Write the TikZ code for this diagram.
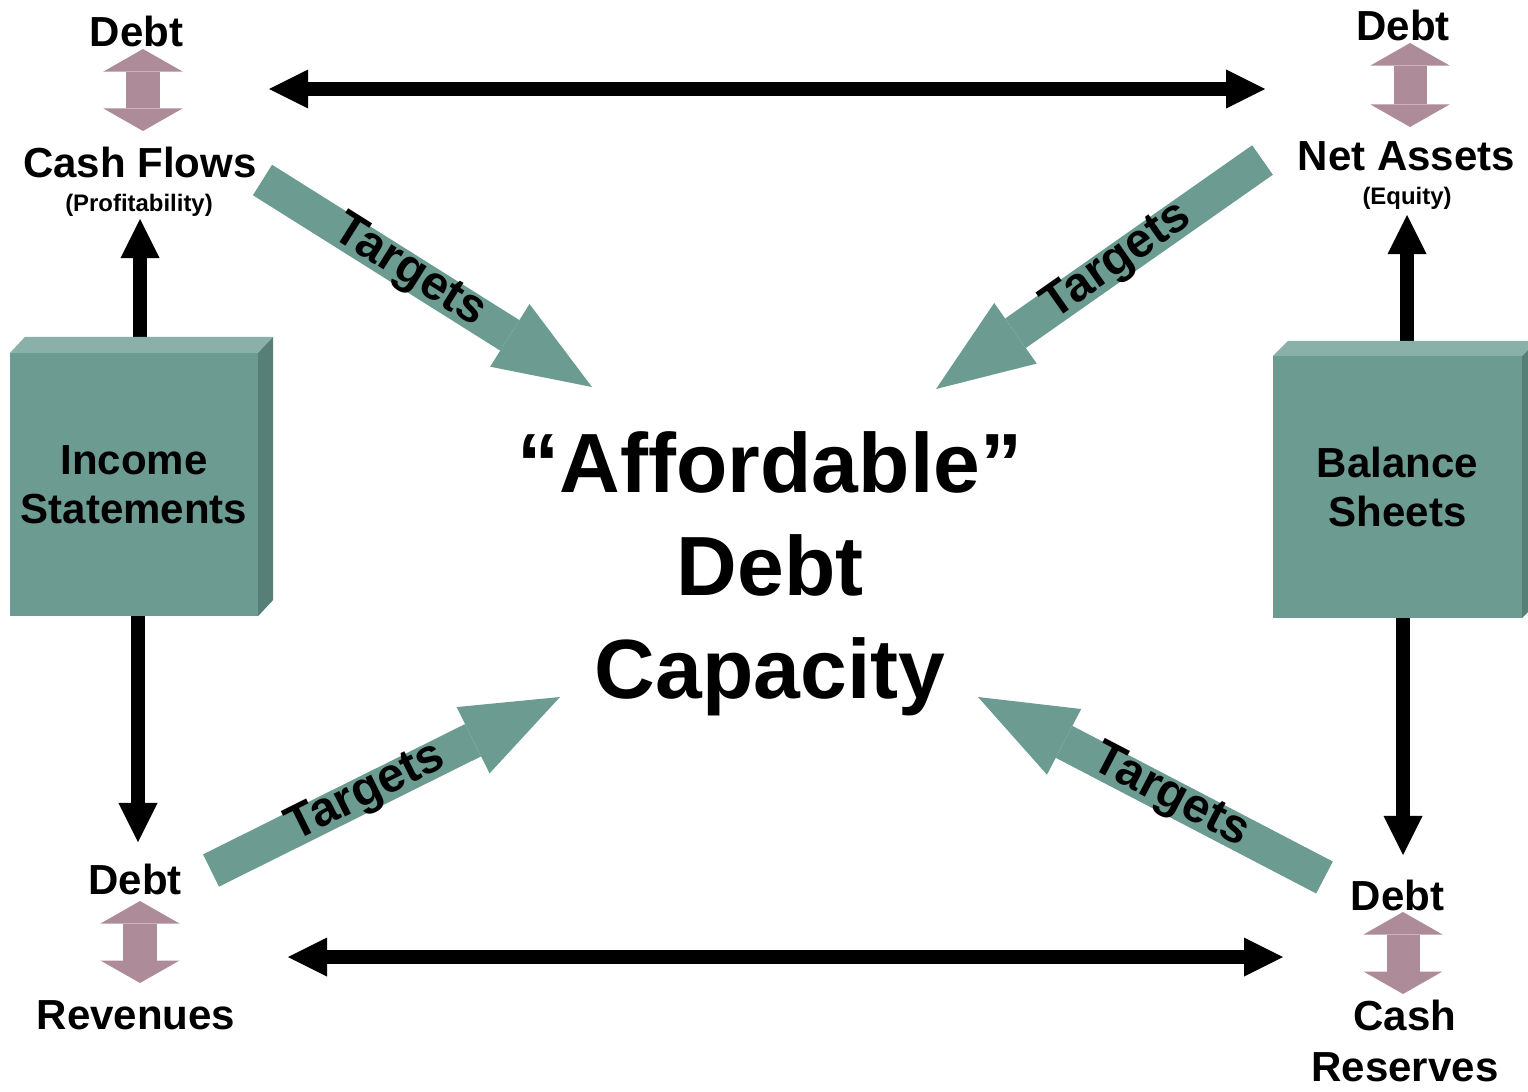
\documentclass[tikz,border=0pt]{standalone}
\usepackage{fontspec}
\setmainfont{Liberation Sans}
\usetikzlibrary{arrows.meta,calc}
\definecolor{tealfill}{RGB}{108,155,146}
\definecolor{tealtop}{RGB}{138,177,169}
\definecolor{tealside}{RGB}{88,127,118}
\definecolor{mauve}{RGB}{173,139,153}

\begin{document}
\begin{tikzpicture}[x=0.01cm,y=-0.01cm,
  lbl/.style={font=\bfseries\fontsize{11.95}{14.5}\selectfont, inner sep=0pt, anchor=base},
  lbltwo/.style={font=\bfseries\fontsize{11.95}{14.5}\selectfont, inner sep=0pt, align=center},
  sublbl/.style={font=\bfseries\fontsize{6.8}{8}\selectfont, inner sep=0pt, anchor=base},
  bigtext/.style={font=\bfseries\fontsize{23.9}{29.3}\selectfont, inner sep=0pt, align=center},
  box/.style={fill=tealfill, inner sep=0pt, outer sep=0pt, align=center,
    font=\bfseries\fontsize{11.95}{13.9}\selectfont},
  blkone/.style={line width=0.135cm, -{Triangle[length=0.39cm,width=0.39cm,line width=0pt]}},
  blkboth/.style={line width=0.135cm,
    {Triangle[length=0.39cm,width=0.39cm,line width=0pt]}-{Triangle[length=0.39cm,width=0.39cm,line width=0pt]}},
  mauveboth/.style={mauve, line width=0.33cm,
    {Triangle[length=0.225cm,width=0.79cm,line width=0pt]}-{Triangle[length=0.225cm,width=0.79cm,line width=0pt]}},
  fatarrow/.style={tealfill, line width=0.36cm, -{Triangle[length=0.97cm,width=0.74cm,line width=0pt]}},
  tgt/.style={text=black, font=\bfseries\fontsize{13.7}{16}\selectfont, inner sep=0pt, sloped, pos=0.445}
]
\clip (0,0) rectangle (1528,1091);

% ---- statement boxes (front faces) ----
\node[box, minimum width=2.48cm, minimum height=2.63cm] (inc) at (134,484.5) {Income\\Statements};
\node[box, minimum width=2.49cm, minimum height=2.62cm] (bal) at (1397.5,487) {Balance\\Sheets};

% ---- labels ----
\node[lbl] (dTL) at (136.5,47) {Debt};
\node[lbl] (cf) at (140,177) {Cash Flows};
\node[sublbl] (prof) at (139,211) {(Profitability)};
\node[lbl] (dTR) at (1403,41) {Debt};
\node[lbl] (na) at (1406.5,171) {Net Assets};
\node[sublbl] (eq) at (1407,205) {(Equity)};
\node[lbl] (dBL) at (135,894) {Debt};
\node[lbl] (rev) at (136,1029) {Revenues};
\node[lbl] (dBR) at (1397.5,910) {Debt};
\node[lbltwo] (cr) at (1405,1041) {Cash\\Reserves};
\node[bigtext] (adc) at (770,574) {“Affordable”\\Debt\\Capacity};

% ---- connector end points ----
\coordinate (cfTip) at (140,219);
\coordinate (revTip) at (138,842);
\coordinate (naTip) at (1407,215);
\coordinate (crTip) at (1403,855);
\coordinate (hTL) at (269,89);
\coordinate (hTR) at (1265,89);
\coordinate (hBL) at (288,957);
\coordinate (hBR) at (1283,957);
\coordinate (pTLa) at (143,49);  \coordinate (pTLb) at (143,131);
\coordinate (pTRa) at (1410,43); \coordinate (pTRb) at (1410,127);
\coordinate (pBLa) at (140,901); \coordinate (pBLb) at (140,983);
\coordinate (pBRa) at (1403,912);\coordinate (pBRb) at (1403,994);
\coordinate (t1a) at (262.5,180);  \coordinate (t1b) at (592,387);
\coordinate (t2a) at (1262.5,160); \coordinate (t2b) at (936,389);
\coordinate (t3a) at (211,870.5);  \coordinate (t3b) at (560,697);
\coordinate (t4a) at (1324.5,877.5); \coordinate (t4b) at (978,697);

% ---- black connectors ----
\draw[blkboth] (hTL) -- (hTR);
\draw[blkboth] (hBL) -- (hBR);
\draw[blkone] (cfTip |- inc.north) -- (cfTip);
\draw[blkone] (revTip |- inc.south) -- (revTip);
\draw[blkone] (naTip |- bal.north) -- (naTip);
\draw[blkone] (crTip |- bal.south) -- (crTip);

% ---- 3D faces of the boxes ----
\fill[tealtop] (inc.north west) -- ++(15,-16) -- ($(inc.north east)+(15,-16)$) -- (inc.north east) -- cycle;
\fill[tealside] (inc.north east) -- ++(15,-16) -- ($(inc.south east)+(15,-16)$) -- (inc.south east) -- cycle;
\fill[tealtop] (bal.north west) -- ++(15,-15) -- ($(bal.north east)+(15,-15)$) -- (bal.north east) -- cycle;
\fill[tealside] (bal.north east) -- ++(15,-15) -- ($(bal.south east)+(15,-15)$) -- (bal.south east) -- cycle;

% ---- Debt <-> measure arrows ----
\draw[mauveboth] (pTLa) -- (pTLb);
\draw[mauveboth] (pTRa) -- (pTRb);
\draw[mauveboth] (pBLa) -- (pBLb);
\draw[mauveboth] (pBRa) -- (pBRb);

% ---- target arrows into the centre ----
\draw[fatarrow] (t1a) -- node[tgt] {Targets} (t1b);
\draw[fatarrow] (t2a) -- node[tgt] {Targets} (t2b);
\draw[fatarrow] (t3a) -- node[tgt] {Targets} (t3b);
\draw[fatarrow] (t4a) -- node[tgt] {Targets} (t4b);
\end{tikzpicture}
\end{document}
